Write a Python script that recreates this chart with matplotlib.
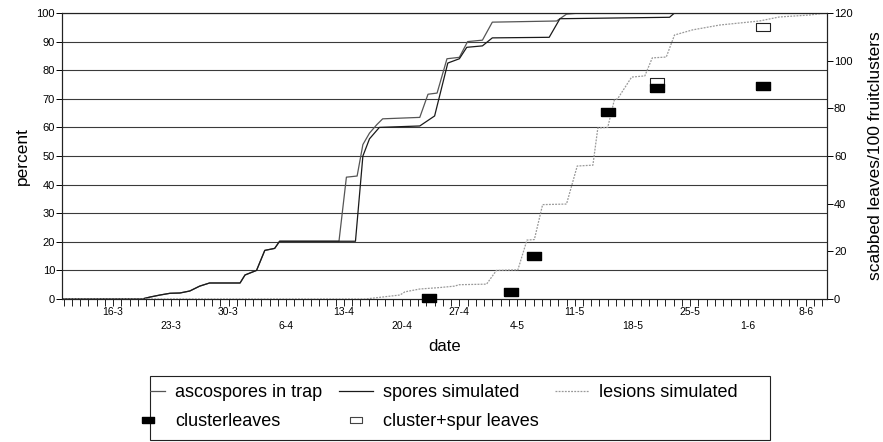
import matplotlib.pyplot as plt
from matplotlib.lines import Line2D
from matplotlib.path import Path
from matplotlib.patches import Rectangle
from matplotlib.transforms import Bbox, TransformedBbox

plt.rcParams['font.family'] = ['Liberation Sans', 'DejaVu Sans']

# day of year (1 Jan = 1) and cumulative percentages
early_days = [69.0, 78.5, 79.5, 80.7, 81.9, 83.1, 84.3, 85.5, 86.7, 90.4, 91.0, 92.4, 93.4, 94.6, 95.2]
early_pct = [0.0, 0.0, 0.7, 1.4, 2.0, 2.1, 2.8, 4.5, 5.6, 5.6, 8.4, 10.0, 17.0, 17.7, 20.2]

trap_days = [102.4, 103.3, 104.6, 105.3, 106.1, 107.0, 107.7, 112.2, 113.2, 114.3, 115.5,
             117.0, 118.0, 119.8, 121.0, 128.8, 130.0, 131.6, 161.5]
trap_pct = [20.2, 42.6, 43.0, 54.0, 58.0, 61.0, 63.0, 63.5, 71.6, 72.0, 84.0,
            84.5, 90.0, 90.5, 96.8, 97.2, 99.6, 100.0, 100.0]

sim_days = [104.4, 105.3, 106.1, 107.3, 112.2, 114.0, 115.6, 117.0, 117.9, 119.8, 121.0,
            127.9, 129.2, 142.5, 143.1, 161.5]
sim_pct = [20.2, 50.0, 56.0, 60.0, 60.5, 64.0, 82.5, 84.0, 88.0, 88.5, 91.3,
           91.5, 98.0, 98.5, 100.0, 100.0]

lesion_days = [69.0, 105.5, 106.5, 108.6, 109.8, 110.4, 112.2, 114.6, 116.4, 117.0, 120.3,
               121.5, 124.1, 125.2, 126.1, 127.1, 130.0, 131.3, 133.2, 133.8, 135.0,
               135.8, 136.2, 137.9, 139.5, 140.4, 142.1, 143.1, 145.3, 148.6, 151.0,
               153.4, 155.8, 159.5, 161.5]
lesion_pct = [0.0, 0.0, 0.3, 1.0, 1.4, 2.5, 3.5, 4.0, 4.5, 5.0, 5.2,
              10.0, 10.2, 20.6, 20.8, 33.0, 33.2, 46.5, 46.8, 59.8, 60.0,
              69.6, 70.0, 77.6, 78.0, 84.3, 84.6, 92.3, 94.1, 95.8, 96.5,
              97.2, 98.6, 99.3, 100.0]

# scabbed leaves per 100 fruit clusters
cluster_days = [113.3, 123.3, 126.1, 135.0, 141.0, 153.8]
cluster_vals = [0.5, 3.0, 18.0, 78.5, 88.5, 89.4]
spur_days = [141.0, 153.8]
spur_vals = [91.0, 114.0]

week_days = [75, 82, 89, 96, 103, 110, 117, 124, 131, 138, 145, 152, 159]
week_labels = ['16-3', '23-3', '30-3', '6-4', '13-4', '20-4', '27-4',
               '4-5', '11-5', '18-5', '25-5', '1-6', '8-6']

rect = Path([(-1, -0.58), (1, -0.58), (1, 0.58), (-1, 0.58), (-1, -0.58)])
lesion_style = (0, (1.5, 1))

fig = plt.figure(figsize=(8.83, 4.42), dpi=100)
ax = fig.add_axes([0.0702, 0.3235, 0.8664, 0.6471])
ax2 = ax.twinx()

for y in range(10, 101, 10):
    ax.axhline(y, color='#3a3a3a', lw=0.8, zorder=1)

ax.plot(early_days + trap_days, early_pct + trap_pct, color='#555555', lw=0.9, zorder=3)
ax.plot(early_days + sim_days, early_pct + sim_pct, color='#1a1a1a', lw=0.9, zorder=3)
ax.plot(lesion_days, lesion_pct, color='#999999', lw=0.9, ls=lesion_style, zorder=3)

ax2.plot(spur_days, spur_vals, ls='none', marker=rect, markersize=10,
         mfc='white', mec='#222222', mew=0.8, zorder=4, clip_on=False)
ax2.plot(cluster_days, cluster_vals, ls='none', marker=rect, markersize=10,
         mfc='black', mec='black', zorder=5, clip_on=False)

ax.set_xlim(68.8, 161.6)
ax.set_ylim(0, 100)
ax2.set_ylim(0, 120)

ax.set_xticks(range(69, 162), minor=True)
ax.set_xticks(week_days)
ax.set_xticklabels([lab if i % 2 == 0 else '\n' + lab for i, lab in enumerate(week_labels)],
                   fontsize=7.5, linespacing=1.4,
                   family=['Liberation Sans Narrow', 'Liberation Sans'])
ax.tick_params(axis='x', which='both', direction='out', length=5, width=0.7, pad=1, color='#222222')
ax.set_yticks(range(0, 101, 10))
ax.tick_params(axis='y', direction='out', length=4, width=0.7, pad=1, labelsize=8)
ax2.set_yticks(range(0, 121, 20))
ax2.tick_params(axis='y', direction='out', length=4, width=0.7, pad=1, labelsize=8)

for a in (ax, ax2):
    for s in a.spines.values():
        s.set_linewidth(0.8)
        s.set_color('#222222')

ax.set_xlabel('date', fontsize=12, labelpad=6)
ax.set_ylabel('percent', fontsize=12.5, labelpad=5)
ax2.set_ylabel('scabbed leaves/100 fruitclusters', fontsize=12.5, labelpad=11)

handles = [
    Line2D([], [], color='#555555', lw=0.9),
    Line2D([], [], ls='none', marker=rect, markersize=8, mfc='black', mec='black'),
    Line2D([], [], color='#1a1a1a', lw=0.9),
    Line2D([], [], ls='none', marker=rect, markersize=8, mfc='white', mec='#444444', mew=0.8),
    Line2D([], [], color='#999999', lw=0.9, ls=lesion_style),
]
labels = ['ascospores in trap', 'clusterleaves', 'spores simulated',
          'cluster+spur leaves', 'lesions simulated']

# legend box drawn separately so the first handle can run into its edge
box = Bbox.from_extents(150 / 883, 2 / 442, 770 / 883, 66 / 442)
fig.patches.append(Rectangle(box.p0, box.width, box.height, transform=fig.transFigure,
                             fill=False, ec='#222222', lw=0.8))
leg = fig.legend(handles, labels, loc='upper left', bbox_to_anchor=(131 / 883, 1 - 384 / 442),
                 ncol=3, fontsize=13, frameon=False, borderaxespad=0, borderpad=0,
                 handlelength=1.9, handletextpad=0.55, labelspacing=0.68, columnspacing=0.9)
first = leg.legend_handles[0]
first.set_clip_box(TransformedBbox(box, fig.transFigure))
first.set_clip_on(True)

fig.savefig('out.png', dpi=100)
